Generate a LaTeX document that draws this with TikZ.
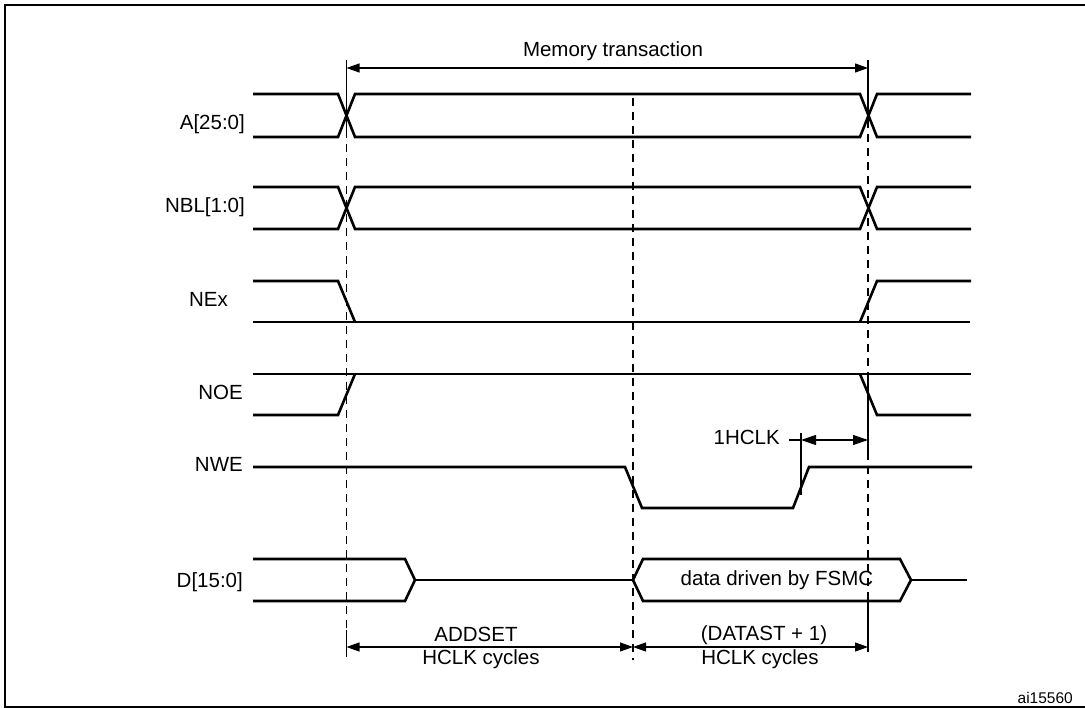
\documentclass[tikz,border=0pt]{standalone}
\usepackage{fontspec}
\setmainfont{Liberation Sans}
\usetikzlibrary{arrows.meta}
\newcommand{\lblfont}{\fontsize{20.5}{24}\selectfont}

\tikzset{
  wave/.style={line width=2.6pt},
  guide/.style={line width=1.3pt, dash pattern=on 8pt off 6pt},
  tick/.style={line width=1.2pt},
  dim/.style={line width=1.2pt, {Triangle[length=13pt,width=9pt]}-{Triangle[length=13pt,width=9pt]}},
  siglabel/.style={anchor=base east, inner sep=0pt, font=\lblfont},
  dimlabel/.style={anchor=base, inner sep=0pt, font=\lblfont},
}

\begin{document}
\begin{tikzpicture}[x=1pt,y=-1pt]
  \useasboundingbox (0,0) rectangle (1085,708);
  \draw[line width=2pt] (1090,5) -- (5,5) -- (5,706.5) -- (1090,706.5);

  % signal names
  \node[siglabel] (sa)   at (245,130) {A[25:0]};
  \node[siglabel] (snbl) at (245,213) {NBL[1:0]};
  \node[siglabel] (snex) at (228,307) {NEx};
  \node[siglabel] (snoe) at (243,400) {NOE};
  \node[siglabel] (snwe) at (243,472) {NWE};
  \node[siglabel] (sd)   at (243,587) {D[15:0]};

  % waveforms
  \draw[wave] (253,94) -- (338,94) -- (355,137) -- (860,137) -- (877,94) -- (971,94);
  \draw[wave] (253,137) -- (338,137) -- (355,94) -- (860,94) -- (877,137) -- (971,137);
  \draw[wave] (253,187) -- (338,187) -- (355,229) -- (860,229) -- (877,187) -- (971,187);
  \draw[wave] (253,229) -- (338,229) -- (355,187) -- (860,187) -- (877,229) -- (971,229);
  \draw[wave] (253,281) -- (338,281) -- (355,322);
  \draw[wave] (253,322) -- (970,322);
  \draw[wave] (860,322) -- (877,281) -- (971,281);
  \draw[wave] (253,374) -- (971,374);
  \draw[wave] (253,415) -- (338,415) -- (355,374);
  \draw[wave] (860,374) -- (877,415) -- (971,415);
  \draw[wave] (253,467) -- (625,467) -- (642,508) -- (793,508) -- (809,467) -- (972,467);
  \draw[wave] (253,559) -- (405,559) -- (415,580) -- (405,601) -- (253,601);
  \draw[wave] (415,580) -- (633,580);
  \draw[wave] (633,580) -- (643,559) -- (900,559) -- (911,580) -- (900,601) -- (643,601) -- cycle;
  \draw[wave] (911,580) -- (967,580);
  \node[dimlabel] (data) at (777,585) {data driven by FSMC};

  % timing marks
  \coordinate (t1top) at (346.5,60);
  \coordinate (t1a)   at (346.5,130);
  \coordinate (t1b)   at (346.5,630);
  \coordinate (t1bot) at (346.5,657);
  \coordinate (t2top) at (633,98);
  \coordinate (t2bot) at (633,660);
  \coordinate (t3top) at (868,60);
  \coordinate (t3a)   at (868,120);
  \coordinate (t3b)   at (868,380);
  \coordinate (t3c)   at (868,452);
  \coordinate (t3d)   at (868,600);
  \coordinate (t3bot) at (868,652);
  \draw[tick]  (t1top) -- (t1a);
  \draw[guide] (t1a) -- (t1b);
  \draw[tick]  (t1b) -- (t1bot);
  \draw[guide] (t2top) -- (t2bot);
  \draw[tick]  (t3top) -- (t3a);
  \draw[guide] (t3a) -- (t3b);
  \draw[tick]  (t3b) -- (t3c);
  \draw[guide] (t3c) -- (t3d);
  \draw[tick]  (t3d) -- (t3bot);

  % memory transaction
  \coordinate (mt1) at (346.5,68);
  \coordinate (mt2) at (868,68);
  \draw[dim] (mt1) -- (mt2);
  \node[dimlabel] (mtlbl) at (613,57) {Memory transaction};

  % 1HCLK
  \coordinate (h1top) at (801,433);
  \coordinate (h1bot) at (801,495);
  \coordinate (h1)    at (801,440);
  \coordinate (h2)    at (868,440);
  \coordinate (hlead) at (789,440);
  \draw[tick] (h1top) -- (h1bot);
  \draw[tick] (hlead) -- (h1);
  \draw[dim,{Triangle[length=15pt,width=10pt]}-{Triangle[length=15pt,width=10pt]}] (h1) -- (h2);
  \node[anchor=base east, inner sep=0pt, font=\lblfont] (hclk) at (780,445) {1HCLK};

  % cycle counts
  \coordinate (c1) at (346.5,647);
  \coordinate (c2) at (633,647);
  \coordinate (c3) at (868,647);
  \draw[dim] (c1) -- (c2);
  \draw[dim] (c2) -- (c3);
  \node[dimlabel] (addset) at (476,641) {ADDSET};
  \node[dimlabel] (hc1)    at (481,664) {HCLK cycles};
  \node[dimlabel] (datast) at (764,640) {(DATAST + 1)};
  \node[dimlabel] (hc2)    at (760,664) {HCLK cycles};

  \node[anchor=base east, inner sep=0pt, font=\fontsize{15.5}{18}\selectfont] (fig) at (1073,703) {ai15560};
\end{tikzpicture}
\end{document}
